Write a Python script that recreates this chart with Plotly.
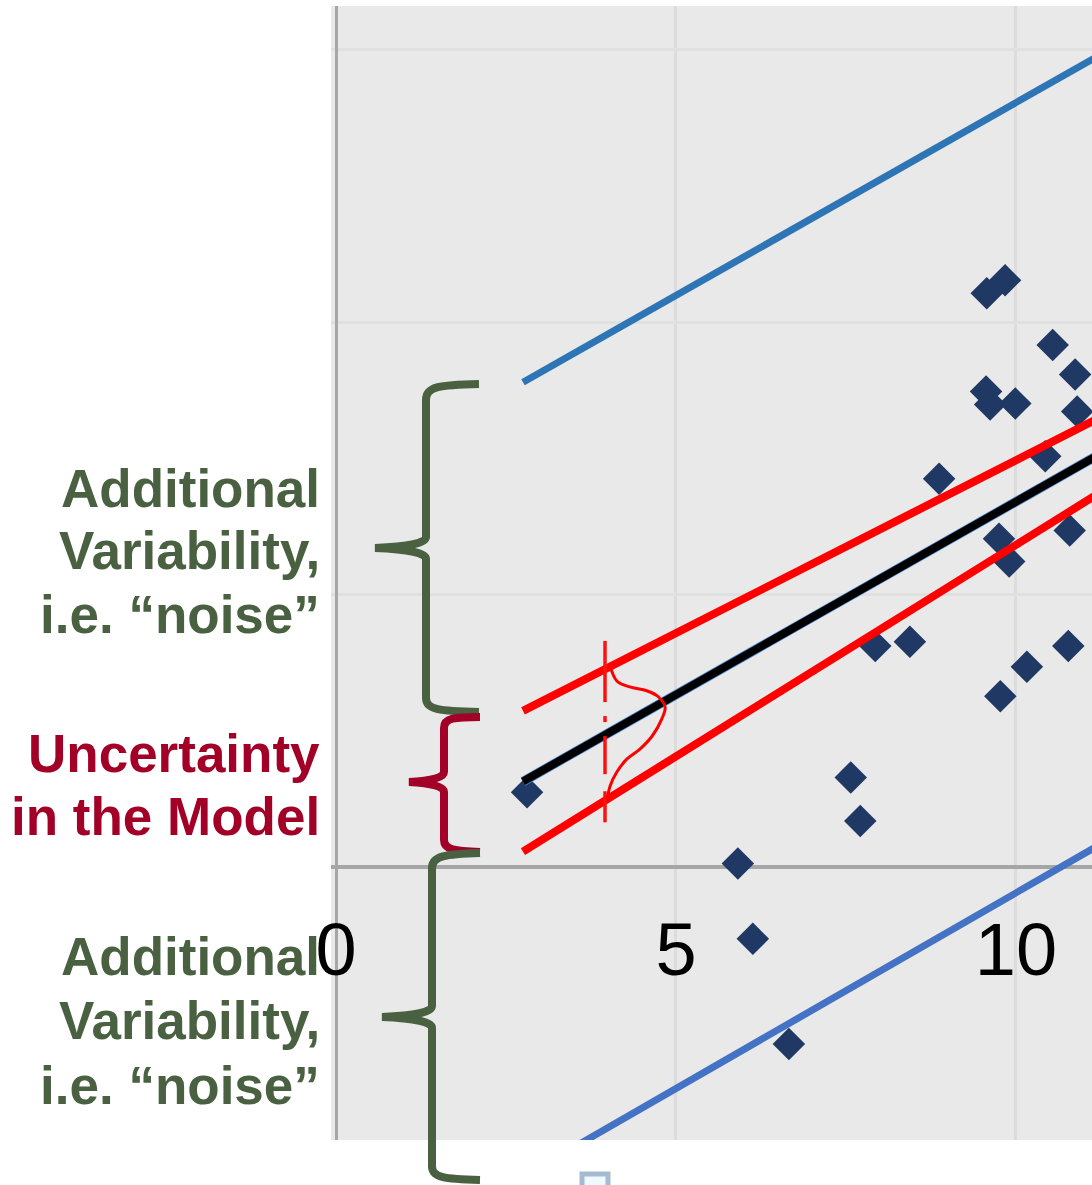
import plotly.graph_objects as go

# ---------------- data ----------------
pt_x = [2.81, 5.91, 6.13, 6.66, 7.57, 7.71, 7.93, 8.44, 8.87, 9.57, 9.84,
        9.56, 9.62, 9.99, 10.54, 10.87, 10.90, 10.43, 9.75, 9.90, 10.79,
        10.77, 10.16, 9.77]
pt_y = [1.38, 0.07, -1.31, -3.24, 1.65, 0.85, 4.06, 4.14, 7.13, 10.53, 10.77,
        8.73, 8.49, 8.51, 9.58, 9.04, 8.36, 7.54, 6.03, 5.61, 6.18,
        4.06, 3.68, 3.14]

line_x = [2.75, 11.5]
upper_pi = [8.90, 15.09]
lower_pi = [-5.67, 0.61]
fit_y = [1.575, 7.77]
upper_ci = [2.87, 8.42]
lower_ci = [0.29, 7.08]

# vertical dashed marker of the residual distribution
tick_x = [3.956, 3.956, None, 3.956, 3.956, None, 3.956, 3.956, None, 3.956, 3.956]
tick_y = [4.154, 3.033, None, 2.776, 2.665, None, 2.408, 1.710, None, 1.397, 0.827]

# bell curve
bell_x = [4.03, 4.13, 4.32, 4.57, 4.74, 4.84, 4.79, 4.65, 4.47, 4.28, 4.13, 4.03, 3.99]
bell_y = [3.70, 3.42, 3.31, 3.24, 3.13, 2.94, 2.72, 2.41, 2.17, 1.99, 1.75, 1.49, 1.25]

x_ticks = [0, 5, 10]
x_ticktext = ["0", "5", "10"]

label_top = ["Additional", "Variability,", "i.e. \u201cnoise\u201d"]
label_mid = ["Uncertainty", "in the Model"]
label_bot = ["Additional", "Variability,", "i.e. \u201cnoise\u201d"]

# ---------------- styles ----------------
W, H = 1092, 1185
ML, MR, MT, MB = 331, 0, 6, 45
PW = W - ML - MR
PH = H - MT - MB
GREEN = "#4a6141"
MAROON = "#a20026"
FONT = "Liberation Sans, Arial, Helvetica, sans-serif"


def px(x, y):
    """pixel -> paper coords"""
    return (x - ML) / PW, (H - MB - y) / PH


def path(cmds):
    out = []
    for c in cmds:
        if isinstance(c, str):
            out.append(c)
        else:
            a, b = px(*c)
            out.append(f"{a:.5f},{b:.5f}")
    return " ".join(out)


fig = go.Figure()

fig.add_trace(go.Scatter(x=pt_x, y=pt_y, mode="markers", hoverinfo="skip",
                         marker=dict(symbol="diamond", size=25, color="#1f3864",
                                     line=dict(width=0))))

fig.add_trace(go.Scatter(x=line_x, y=upper_pi, mode="lines", hoverinfo="skip",
                         line=dict(color="#2e75b6", width=7)))
fig.add_trace(go.Scatter(x=line_x, y=lower_pi, mode="lines", hoverinfo="skip",
                         line=dict(color="#4472c4", width=7)))
fig.add_trace(go.Scatter(x=line_x, y=fit_y, mode="lines", hoverinfo="skip",
                         line=dict(color="#4a8ad6", width=9.5)))
fig.add_trace(go.Scatter(x=line_x, y=fit_y, mode="lines", hoverinfo="skip",
                         line=dict(color="#000000", width=8)))
fig.add_trace(go.Scatter(x=line_x, y=upper_ci, mode="lines", hoverinfo="skip",
                         line=dict(color="#ff0000", width=8)))
fig.add_trace(go.Scatter(x=line_x, y=lower_ci, mode="lines", hoverinfo="skip",
                         line=dict(color="#ff0000", width=8)))
fig.add_trace(go.Scatter(x=tick_x, y=tick_y, mode="lines", hoverinfo="skip",
                         line=dict(color="#ff1010", width=3.5)))
fig.add_trace(go.Scatter(x=bell_x, y=bell_y, mode="lines", hoverinfo="skip",
                         line=dict(color="#ff0000", width=3, shape="spline")))

# ---------------- braces ----------------
shapes = []
brace_top = path(["M", (479, 384), "C", (440, 385), (426, 386), (426, 400),
                  "L", (426, 537), "Q", (426, 546), (375, 548),
                  "Q", (426, 550), (426, 559),
                  "L", (426, 698), "C", (426, 710), (440, 711), (479, 712)])
brace_mid = path(["M", (480, 717), "C", (455, 717), (444, 718), (444, 728),
                  "L", (444, 772), "Q", (444, 780), (409, 782),
                  "Q", (444, 784), (444, 792),
                  "L", (444, 840), "C", (444, 850), (455, 851), (480, 852)])
brace_bot = path(["M", (480, 853), "C", (445, 854), (432, 856), (432, 868),
                  "L", (432, 1006), "Q", (432, 1015), (382, 1017),
                  "Q", (432, 1019), (432, 1028),
                  "L", (432, 1166), "C", (432, 1178), (445, 1179), (480, 1180)])
for p, c in [(brace_top, GREEN), (brace_mid, MAROON), (brace_bot, GREEN)]:
    shapes.append(dict(type="path", xref="paper", yref="paper", path=p,
                       line=dict(color=c, width=8), layer="above"))

# little artifact below plot
x0, y0 = px(582, 1174)
x1, y1 = px(608, 1192)
shapes.append(dict(type="rect", xref="paper", yref="paper", x0=x0, y0=y0, x1=x1, y1=y1,
                   line=dict(color="#a6bbd2", width=5), fillcolor="#eefaff", layer="above"))

# ---------------- labels ----------------
annotations = []


def add_lines(lines, baselines, color):
    for t, b in zip(lines, baselines):
        ax, ay = px(322, b - 17)
        annotations.append(dict(text=f"<b>{t}</b>", xref="paper", yref="paper",
                                x=ax, y=ay, xanchor="right", yanchor="middle",
                                showarrow=False, align="right",
                                font=dict(family=FONT, size=53, color=color)))


add_lines(label_top, [505, 568, 632], GREEN)
add_lines(label_mid, [770, 833], MAROON)
add_lines(label_bot, [973, 1037, 1102], GREEN)

tick_pos = px(0, 900)[1]

fig.update_layout(
    width=W, height=H,
    margin=dict(l=ML, r=MR, t=MT, b=MB, pad=0),
    paper_bgcolor="white",
    plot_bgcolor="#e9e9e9",
    showlegend=False,
    hovermode=False,
    shapes=shapes,
    annotations=annotations,
    xaxis=dict(range=[-0.0735, 11.118], tickvals=x_ticks, ticktext=x_ticktext,
               showgrid=True, gridcolor="#dcdcdc", gridwidth=3,
               zeroline=True, zerolinecolor="#a6a6a6", zerolinewidth=3,
               showline=False, ticks="", anchor="free", position=tick_pos,
               tickfont=dict(family=FONT, size=74, color="black")),
    yaxis=dict(range=[-5.0, 15.8], tickvals=[-5, 0, 5, 10, 15],
               showticklabels=False, showgrid=True, gridcolor="#e0e0e0", gridwidth=3,
               zeroline=True, zerolinecolor="#a6a6a6", zerolinewidth=4,
               showline=False, ticks=""),
)

fig.write_html("out.html", config={"displayModeBar": False, "staticPlot": True},
               post_script="document.body.style.margin='0px';document.body.style.overflow='hidden';")
